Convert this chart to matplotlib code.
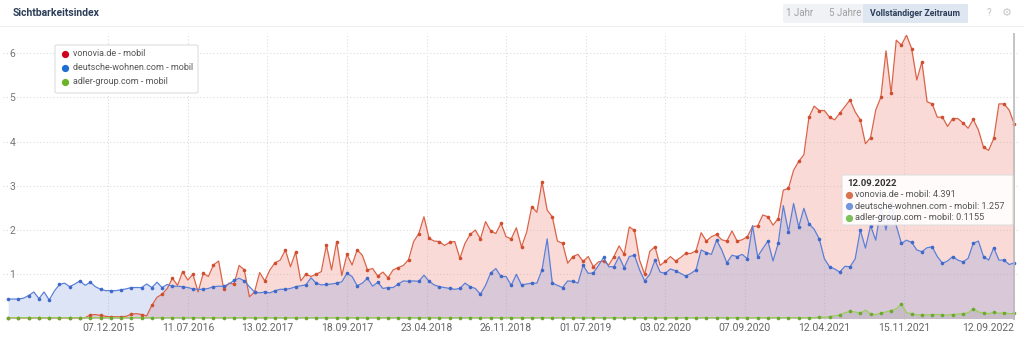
import matplotlib
matplotlib.use('Agg')
import matplotlib.pyplot as plt
from matplotlib.patches import FancyBboxPatch, Rectangle
from matplotlib.lines import Line2D
import pandas as pd

plt.rcParams['font.family'] = ['Roboto', 'DejaVu Sans']

# biweekly samples, last one 12.09.2022
dates = pd.date_range(end='2022-09-12', periods=197, freq='14D')

deutsche_wohnen = [
    0.44, 0.44, 0.44, 0.46, 0.52, 0.60, 0.45, 0.60, 0.42, 0.62,
    0.77, 0.80, 0.72, 0.78, 0.85, 0.75, 0.82, 0.72, 0.66, 0.63,
    0.63, 0.63, 0.65, 0.67, 0.70, 0.70, 0.70, 0.78, 0.70, 0.82,
    0.70, 0.77, 0.73, 0.73, 0.72, 0.70, 0.67, 0.66, 0.66, 0.68,
    0.72, 0.73, 0.73, 0.78, 0.86, 0.91, 0.85, 0.72, 0.60, 0.58,
    0.60, 0.58, 0.63, 0.66, 0.66, 0.68, 0.72, 0.74, 0.76, 0.92,
    0.80, 0.76, 0.77, 0.78, 0.80, 0.83, 1.02, 0.95, 0.74, 0.80,
    0.91, 0.73, 0.82, 0.68, 0.70, 0.70, 0.78, 0.85, 0.84, 0.85,
    0.84, 0.98, 0.84, 0.76, 0.72, 0.70, 0.68, 0.66, 0.68, 0.80,
    0.72, 0.68, 0.55, 0.75, 1.03, 1.13, 0.95, 0.95, 0.75, 1.00,
    0.76, 0.78, 0.80, 0.80, 1.10, 1.80, 0.80, 0.75, 0.70, 0.85,
    0.84, 0.80, 1.20, 1.02, 1.03, 1.20, 1.38, 1.17, 1.17, 1.40,
    1.15, 1.40, 1.43, 1.10, 0.85, 1.00, 1.32, 1.05, 1.02, 1.12,
    1.08, 1.02, 0.96, 1.02, 1.10, 1.55, 1.49, 1.45, 1.77, 1.55,
    1.26, 1.43, 1.40, 1.45, 1.35, 2.10, 1.40, 1.58, 1.75, 1.30,
    1.70, 2.55, 1.96, 2.60, 2.07, 2.49, 2.14, 2.02, 1.80, 1.35,
    1.17, 1.12, 1.05, 1.18, 1.17, 1.35, 2.00, 1.59, 2.10, 1.77,
    2.50, 2.00, 2.60, 2.10, 1.70, 1.77, 1.72, 1.55, 1.51, 1.60,
    1.62, 1.40, 1.25, 1.30, 1.40, 1.32, 1.28, 1.36, 1.70, 1.75,
    1.40, 1.32, 1.60, 1.32, 1.32, 1.22, 1.257,
]

vonovia = [
    0.02, 0.02, 0.02, 0.02, 0.02, 0.02, 0.02, 0.02, 0.02, 0.02,
    0.02, 0.02, 0.02, 0.02, 0.02, 0.02, 0.08, 0.09, 0.07, 0.05,
    0.04, 0.04, 0.04, 0.05, 0.10, 0.11, 0.09, 0.06, 0.30, 0.48,
    0.55, 0.68, 0.91, 0.75, 1.06, 0.87, 1.00, 0.60, 1.02, 0.95,
    1.21, 1.30, 0.66, 0.80, 0.78, 1.20, 1.10, 0.49, 0.60, 1.04,
    0.85, 1.10, 1.26, 1.32, 1.55, 1.17, 1.50, 0.85, 1.00, 0.95,
    1.00, 1.06, 1.66, 1.10, 1.74, 0.97, 1.45, 1.21, 1.55, 1.43,
    1.10, 1.13, 0.96, 1.05, 0.92, 1.10, 1.15, 1.20, 1.33, 1.74,
    1.92, 2.30, 1.81, 1.75, 1.74, 1.65, 1.72, 1.74, 1.36, 1.70,
    1.90, 2.00, 1.80, 2.19, 1.98, 1.92, 2.15, 1.85, 1.80, 2.05,
    1.62, 1.95, 2.53, 2.40, 3.09, 2.45, 2.30, 1.75, 1.70, 1.25,
    1.40, 1.45, 1.29, 1.40, 1.17, 1.28, 1.30, 1.21, 1.40, 1.64,
    1.45, 2.07, 1.99, 1.32, 1.00, 1.52, 1.62, 1.20, 1.29, 1.40,
    1.30, 1.38, 1.47, 1.47, 1.53, 1.94, 1.75, 1.85, 1.90, 1.78,
    1.75, 1.98, 1.75, 1.78, 1.85, 2.08, 2.09, 2.34, 2.30, 2.11,
    2.26, 2.90, 2.94, 3.35, 3.55, 3.70, 4.55, 4.80, 4.70, 4.70,
    4.55, 4.49, 4.64, 4.79, 4.94, 4.67, 4.49, 3.95, 4.09, 4.71,
    5.00, 6.05, 5.09, 6.29, 6.18, 6.40, 6.10, 5.39, 5.80, 4.90,
    4.85, 4.55, 4.55, 4.34, 4.52, 4.52, 4.42, 4.30, 4.50, 4.26,
    3.87, 3.80, 4.07, 4.85, 4.85, 4.71, 4.391,
]

adler = [
    0.02, 0.02, 0.02, 0.02, 0.02, 0.02, 0.02, 0.02, 0.02, 0.02,
    0.02, 0.02, 0.02, 0.02, 0.02, 0.02, 0.02, 0.02, 0.02, 0.02,
    0.02, 0.02, 0.02, 0.02, 0.02, 0.02, 0.02, 0.02, 0.02, 0.02,
    0.02, 0.02, 0.02, 0.02, 0.02, 0.02, 0.02, 0.02, 0.02, 0.02,
    0.02, 0.02, 0.02, 0.02, 0.02, 0.02, 0.02, 0.02, 0.02, 0.02,
    0.02, 0.02, 0.02, 0.02, 0.02, 0.02, 0.02, 0.02, 0.02, 0.02,
    0.02, 0.02, 0.02, 0.02, 0.02, 0.02, 0.02, 0.02, 0.02, 0.02,
    0.02, 0.02, 0.02, 0.02, 0.02, 0.02, 0.02, 0.02, 0.02, 0.02,
    0.02, 0.02, 0.02, 0.02, 0.02, 0.02, 0.02, 0.02, 0.02, 0.02,
    0.02, 0.02, 0.02, 0.02, 0.02, 0.02, 0.02, 0.02, 0.02, 0.02,
    0.02, 0.02, 0.02, 0.02, 0.02, 0.02, 0.02, 0.02, 0.02, 0.02,
    0.02, 0.02, 0.02, 0.02, 0.02, 0.02, 0.02, 0.02, 0.02, 0.02,
    0.02, 0.02, 0.02, 0.02, 0.02, 0.02, 0.02, 0.02, 0.02, 0.02,
    0.02, 0.02, 0.02, 0.02, 0.02, 0.02, 0.02, 0.02, 0.02, 0.02,
    0.02, 0.02, 0.02, 0.02, 0.02, 0.02, 0.02, 0.02, 0.02, 0.02,
    0.02, 0.02, 0.02, 0.02, 0.02, 0.02, 0.02, 0.02, 0.03, 0.03,
    0.04, 0.06, 0.08, 0.13, 0.16, 0.15, 0.12, 0.19, 0.10, 0.09,
    0.12, 0.15, 0.18, 0.22, 0.33, 0.13, 0.11, 0.08, 0.09, 0.08,
    0.09, 0.09, 0.08, 0.08, 0.09, 0.10, 0.11, 0.13, 0.22, 0.15,
    0.12, 0.11, 0.14, 0.12, 0.13, 0.11, 0.1155,
]

tick_dates = ['2015-12-07', '2016-07-11', '2017-02-13', '2017-09-18', '2018-04-23',
              '2018-11-26', '2019-07-01', '2020-02-03', '2020-09-07', '2021-04-12',
              '2021-11-15', '2022-09-12']
tick_labels = ['07.12.2015', '11.07.2016', '13.02.2017', '18.09.2017', '23.04.2018',
               '26.11.2018', '01.07.2019', '03.02.2020', '07.09.2020', '12.04.2021',
               '15.11.2021', '12.09.2022']

W, H = 1024, 338
fig = plt.figure(figsize=(W / 100, H / 100), dpi=100)
ax = fig.add_axes([3 / W, (H - 320.3) / H, 1015 / W, 287.2 / H])

# vonovia (red area)
ax.fill_between(dates, vonovia, 0, color='#f0a096', alpha=0.38, lw=0)
ax.plot(dates, vonovia, color='#db6347', lw=0.9, marker='o', markersize=2.6,
        markevery=2, markerfacecolor='#cf4e30', markeredgewidth=0)
# deutsche-wohnen (blue area)
ax.fill_between(dates, deutsche_wohnen, 0, color='#7896dc', alpha=0.25, lw=0)
ax.plot(dates, deutsche_wohnen, color='#5b80d8', lw=0.9, marker='o', markersize=2.6,
        markevery=2, markerfacecolor='#3f68c8', markeredgewidth=0)
# adler-group (green)
ax.fill_between(dates, adler, 0, color='#999999', alpha=0.25, lw=0)
ax.plot(dates, adler, color='#9ccf5a', lw=0.9, marker='o', markersize=2.6,
        markevery=2, markerfacecolor='#6aa82e', markeredgewidth=0)

ax.set_xlim(pd.Timestamp('2015-02-23'), pd.Timestamp('2022-09-22'))
ax.set_ylim(-0.04, 6.45)
for s in ax.spines.values():
    s.set_visible(False)

ax.set_yticks([1, 2, 3, 4, 5, 6])
ax.set_yticklabels(['1', '2', '3', '4', '5', '6'])
ax.tick_params(axis='y', length=0, pad=-9, labelsize=7.5, labelcolor='#777777')
ax.set_xticks(pd.to_datetime(tick_dates))
ax.set_xticklabels(tick_labels)
ax.tick_params(axis='x', length=0, pad=2, labelsize=7.5, labelcolor='#666666')
ax.get_xticklabels()[-1].set_ha('right')
ax.grid(True, color='#dcdcdc', linestyle=(0, (1, 2)), lw=0.8)
ax.set_axisbelow(True)

# crosshair on last date
ax.axvline(pd.Timestamp('2022-09-12'), color='#bbbbbb', lw=1.2, zorder=5)

# header
fig.text(13 / W, 1 - 13 / H, 'Sichtbarkeitsindex', fontsize=7.5, fontweight='bold',
         color='#2d3e58', va='center', ha='left')
fig.add_artist(Line2D([0, 1], [1 - 26 / H, 1 - 26 / H], color='#eeeeee', lw=0.8))
fig.add_artist(FancyBboxPatch((783 / W, 1 - 23 / H), 185 / W, 19 / H,
                              boxstyle='round,pad=0,rounding_size=0.004',
                              fc='#f0f2f5', ec='none'))
fig.add_artist(Rectangle((863 / W, 1 - 23 / H), 105 / W, 19 / H, fc='#dde6f1', ec='none'))
fig.text(800 / W, 1 - 13 / H, '1 Jahr', fontsize=7, color='#a0a0a0', ha='center', va='center')
fig.text(845 / W, 1 - 13 / H, '5 Jahre', fontsize=7, color='#a0a0a0', ha='center', va='center')
fig.text(915 / W, 1 - 13 / H, 'Vollständiger Zeitraum', fontsize=6.3, fontweight='bold',
         color='#2d3e58', ha='center', va='center')
fig.text(989 / W, 1 - 13 / H, '?', fontsize=7, color='#c0c0c0', ha='center', va='center')
fig.text(1007 / W, 1 - 13 / H, '⚙', fontsize=8, color='#c8c8c8', ha='center', va='center',
         family='DejaVu Sans')

# legend box
fig.add_artist(FancyBboxPatch((55 / W, 1 - 93 / H), 143 / W, 48 / H,
                              boxstyle='round,pad=0,rounding_size=0.003',
                              fc='white', ec='#dddddd', lw=0.8, zorder=10))
legend_items = [('vonovia.de - mobil', '#d0021b'),
                ('deutsche-wohnen.com - mobil', '#1e6fd1'),
                ('adler-group.com - mobil', '#6bb428')]
for k, (name, col) in enumerate(legend_items):
    yy = 1 - (54 + k * 14) / H
    fig.add_artist(Line2D([65 / W], [yy], marker='o', markersize=4.2, color=col, lw=0, zorder=11))
    fig.text(73 / W, yy, name, fontsize=6.5, color='#555555', va='center', ha='left', zorder=11)

# tooltip
fig.add_artist(FancyBboxPatch((842 / W, 1 - 225 / H), 171 / W, 50 / H,
                              boxstyle='round,pad=0,rounding_size=0.003',
                              fc='white', ec='#dddddd', lw=0.8, alpha=0.9, zorder=10))
fig.text(847 / W, 1 - 184 / H, '12.09.2022', fontsize=6.8, fontweight='bold', color='#333333',
         va='center', ha='left', zorder=11)
tip_items = [('vonovia.de - mobil: 4.391', '#d9734f'),
             ('deutsche-wohnen.com - mobil: 1.257', '#7295dd'),
             ('adler-group.com - mobil: 0.1155', '#7cc15a')]
for k, (txt, col) in enumerate(tip_items):
    yy = 1 - (195 + k * 11.5) / H
    fig.add_artist(Line2D([849 / W], [yy], marker='o', markersize=4.2, color=col, lw=0, zorder=11))
    fig.text(855 / W, yy, txt, fontsize=6.6, color='#555555', va='center', ha='left', zorder=11)

fig.savefig('out.png', dpi=100)
